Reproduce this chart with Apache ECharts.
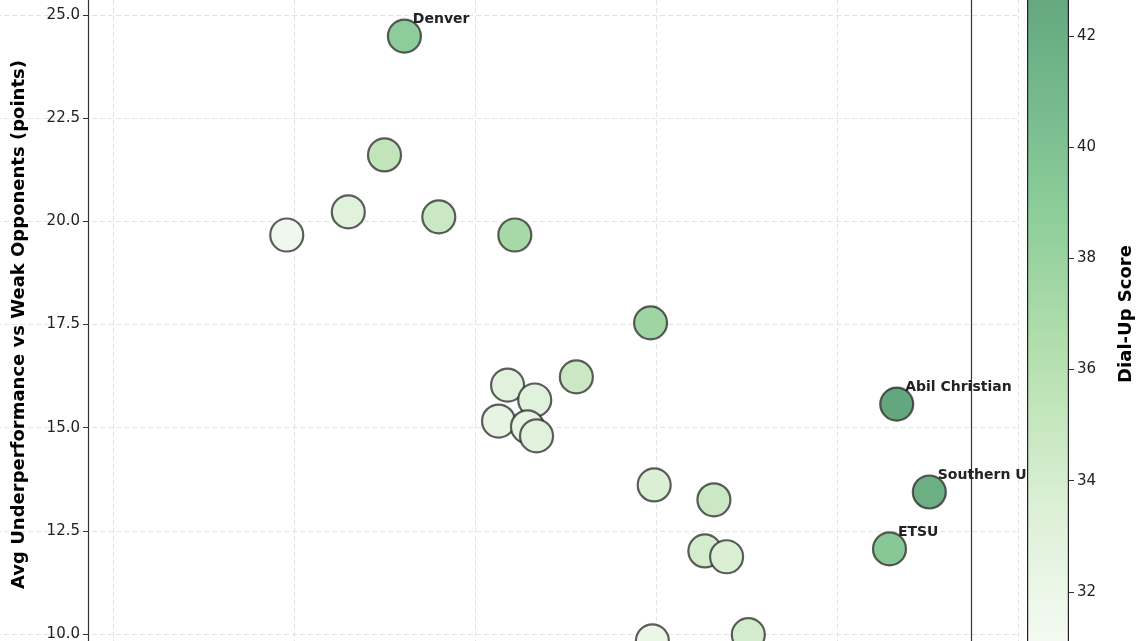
<!DOCTYPE html>
<html><head><meta charset="utf-8">
<script src="https://cdn.jsdelivr.net/npm/echarts@6/dist/echarts.min.js"></script>
<style>html,body{margin:0;padding:0;background:#fff;overflow:hidden;width:1140px;height:641px;position:relative}
#main{position:absolute;left:-68px;top:-88px;width:1208px;height:825px}</style>
</head><body><div id="main"></div>
<script>
// x position (unlabelled axis), underperformance, dial-up score, label
var xs    = [2.61, 2.50, 2.30, 1.96, 2.80, 3.22, 3.97, 3.56, 3.18, 3.33, 3.13, 3.29, 3.34, 3.99, 4.32, 4.27, 4.39, 3.98, 4.51, 5.33, 5.51, 5.29];
var ys    = [24.49,21.61,20.23,19.67,20.11,19.67,17.54,16.23,16.03,15.67,15.16,15.02,14.80,13.61,13.25,12.01,11.87,9.83, 9.98, 15.57,13.44,12.06];
var score = [38.0, 35.0, 33.0, 31.5, 34.5, 36.5, 37.0, 34.5, 33.0, 33.0, 32.5, 32.5, 33.0, 33.5, 34.5, 34.0, 33.5, 32.0, 34.0, 42.2, 41.2, 38.6];
var names = ['Denver','','','','','','','','','','','','','','','','','','','Abil Christian','Southern U','ETSU'];
var yTicks = [10.0, 12.5, 15.0, 17.5, 20.0, 22.5, 25.0];
var cbTicks = [32, 34, 36, 38, 40, 42];
var cbMin = 30, cbMax = 44;
var greens = ['#f4faf2','#dcf0d6','#b4dfae','#8dcd9a','#72b68a','#60a27b'];

var pts = [];
for (var i = 0; i < xs.length; i++) pts.push({value: [xs[i], ys[i], score[i]], name: names[i]});

var myChart = echarts.init(document.getElementById('main'));
var font = 'DejaVu Sans';
var option = {
	animation: false,
	textStyle: {fontFamily: font},
	grid: [
		{left: 0, right: 122, top: 0, bottom: 0},
		{left: 1095, width: 42, top: 13, bottom: 34}
	],
	xAxis: [
		{type: 'value', min: 0, max: 6, interval: 1, gridIndex: 0,
		 axisLine: {show: false}, axisTick: {show: false}, axisLabel: {show: false},
		 splitLine: {show: true, lineStyle: {color: '#e3e3e3', type: [5, 3]}}},
		{type: 'category', data: ['cb'], gridIndex: 1, show: false}
	],
	yAxis: [
		{type: 'value', min: 7.5, max: 27.5, interval: 2.5, gridIndex: 0, offset: -156,
		 name: 'Avg Underperformance vs Weak Opponents (points)', nameLocation: 'middle', nameGap: 60,
		 nameTextStyle: {fontSize: 18, fontWeight: 'bold', color: '#000', fontFamily: font},
		 axisLine: {show: true, lineStyle: {color: '#333', width: 1.2}},
		 axisTick: {show: true, length: 5, lineStyle: {color: '#333'}},
		 axisLabel: {color: '#222', fontSize: 15, margin: 8, fontFamily: font,
			formatter: function (v) { return yTicks.indexOf(v) >= 0 ? v.toFixed(1) : ''; }},
		 splitLine: {show: true, lineStyle: {color: '#e3e3e3', type: [5, 3]}}},
		{type: 'value', min: 7.5, max: 27.5, gridIndex: 0, position: 'right', offset: -47,
		 axisLine: {show: true, lineStyle: {color: '#333', width: 1.2}},
		 axisTick: {show: false}, axisLabel: {show: false}, splitLine: {show: false}},
		{type: 'value', min: cbMin, max: cbMax, interval: 2, gridIndex: 1, position: 'right',
		 name: 'Dial-Up Score', nameLocation: 'middle', nameGap: 48, nameRotate: 90,
		 nameTextStyle: {fontSize: 18, fontWeight: 'bold', color: '#000', fontFamily: font},
		 axisLine: {show: false},
		 axisTick: {show: true, length: 5, lineStyle: {color: '#333'}},
		 axisLabel: {color: '#222', fontSize: 15, fontFamily: font,
			formatter: function (v) { return cbTicks.indexOf(v) >= 0 ? String(v) : ''; }},
		 splitLine: {show: false}}
	],
	visualMap: {show: false, seriesIndex: 0, dimension: 2, min: 31.1, max: 42.7, inRange: {color: greens}},
	series: [
		{type: 'scatter', xAxisIndex: 0, yAxisIndex: 0, data: pts, symbolSize: 33, z: 2,
		 itemStyle: {borderColor: 'rgba(40,40,40,0.75)', borderWidth: 2.2, opacity: 1},
		 label: {show: true, formatter: '{b}', position: [26, -6], color: '#222',
			fontWeight: 'bold', fontSize: 14, fontFamily: font}},
		{type: 'bar', xAxisIndex: 1, yAxisIndex: 2, data: [cbMax], barWidth: '100%', z: 10,
		 itemStyle: {borderColor: '#222', borderWidth: 1.2,
			color: new echarts.graphic.LinearGradient(0, 1, 0, 0, [
				{offset: 0.08, color: greens[0]}, {offset: 0.25, color: greens[1]},
				{offset: 0.45, color: greens[2]}, {offset: 0.63, color: greens[3]},
				{offset: 0.8, color: greens[4]}, {offset: 0.95, color: greens[5]}])}}
	]
};
myChart.setOption(option);
</script></body></html>
